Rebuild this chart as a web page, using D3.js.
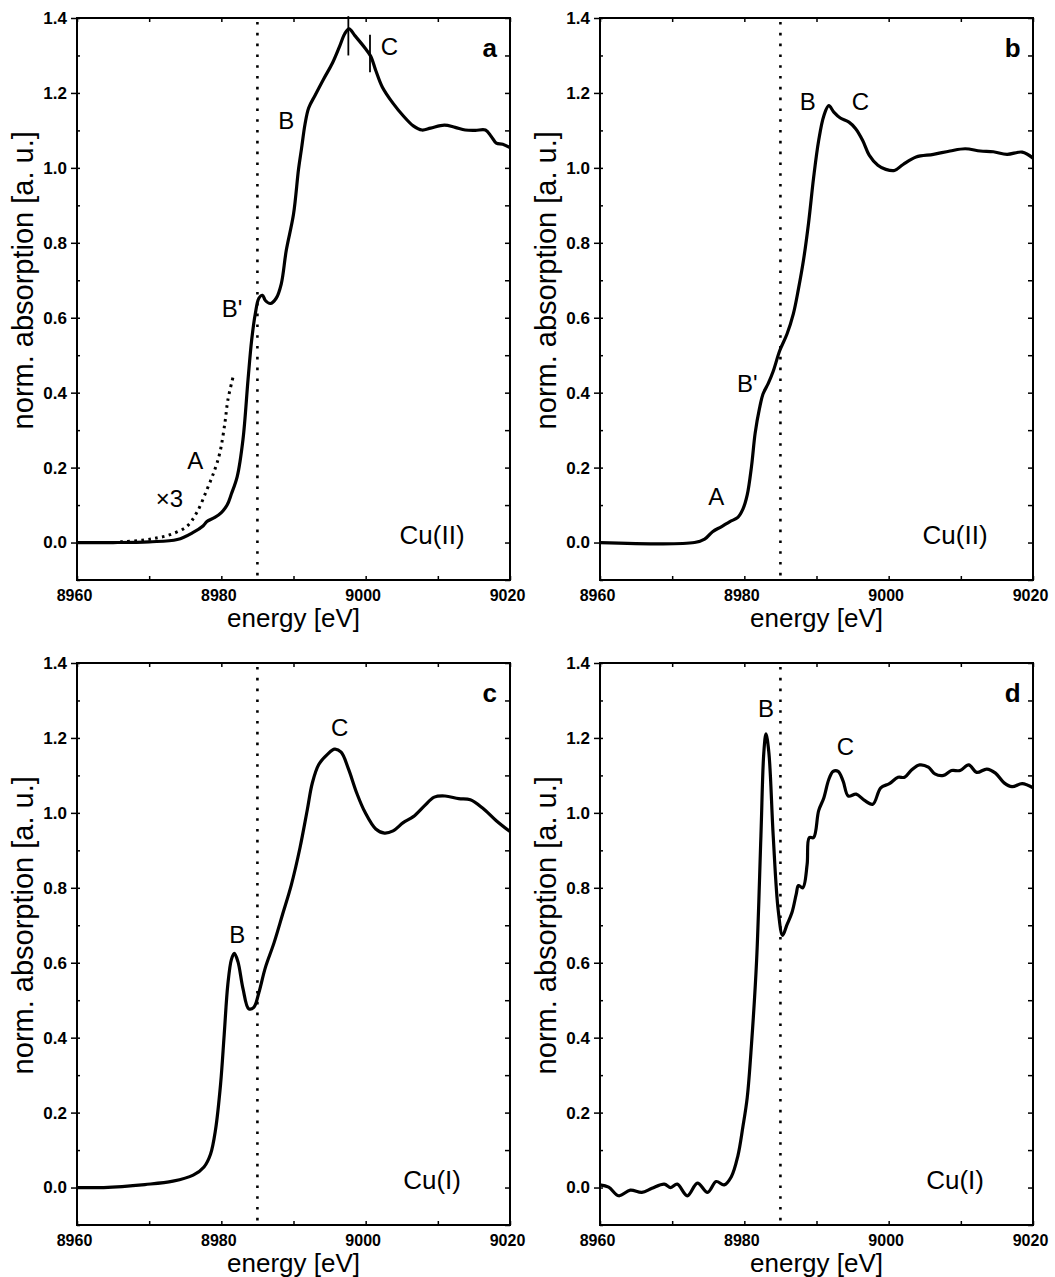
<!DOCTYPE html>
<html>
<head>
<meta charset="utf-8">
<script src="https://cdn.jsdelivr.net/npm/d3@7"></script>
<style>
  body { margin: 0; background: #fff; }
  text { font-family: 'Liberation Sans', Arial, Helvetica, sans-serif; fill: #000; }
</style>
</head>
<body>
<div class="canvas"></div>
<script>
const width = 1055;
const height = 1277;

// tick labels
const xLabels = [8960, 8980, 9000, 9020];
const yLabels = [0, 0.2, 0.4, 0.6, 0.8, 1.0, 1.2, 1.4];
const edgeLine = 8985;

// panel a: Cu(II)
const energyA = [8960, 8965, 8970, 8973.9, 8976.1, 8977.5, 8978.0, 8979.1, 8980.0, 8980.8, 8981.4, 8982.2, 8983.0, 8983.7, 8984.2, 8984.7, 8985.2, 8985.7, 8986.1, 8986.8, 8987.6, 8988.3, 8989.0, 8990.0, 8990.7, 8991.1, 8991.6, 8992.1, 8993.0, 8994.2, 8995.4, 8996.4, 8997.1, 8997.7, 8998.5, 8999.9, 9000.7, 9001.4, 9002.3, 9003.8, 9005.2, 9006.6, 9007.8, 9009.0, 9010.9, 9012.4, 9013.8, 9015.2, 9016.6, 9017.4, 9018.1, 9019.0, 9020];
const absA = [0, 0, 0.002, 0.008, 0.027, 0.045, 0.056, 0.067, 0.08, 0.1, 0.13, 0.176, 0.275, 0.435, 0.54, 0.61, 0.652, 0.66, 0.646, 0.638, 0.652, 0.69, 0.78, 0.876, 0.997, 1.05, 1.117, 1.16, 1.194, 1.238, 1.28, 1.325, 1.358, 1.371, 1.353, 1.32, 1.298, 1.26, 1.216, 1.172, 1.139, 1.112, 1.101, 1.106, 1.114, 1.108, 1.101, 1.1, 1.101, 1.084, 1.066, 1.063, 1.054];
// pre-edge region multiplied by 3
const energyA3 = [8966, 8969, 8971, 8972.9, 8975.2, 8976.6, 8978.0, 8979.1, 8979.8, 8980.5, 8980.9, 8981.6];
const absA3 = [0.002, 0.006, 0.012, 0.021, 0.043, 0.08, 0.141, 0.195, 0.24, 0.32, 0.38, 0.44];

// panel b: Cu(II)
const energyB = [8960, 8973.1, 8974.5, 8975.6, 8976.8, 8978.0, 8979.1, 8979.8, 8980.4, 8981.0, 8981.5, 8982.1, 8982.6, 8983.3, 8984.0, 8984.9, 8985.9, 8986.8, 8987.5, 8988.2, 8988.9, 8989.6, 8990.3, 8991.0, 8991.7, 8992.4, 8993.3, 8994.5, 8995.4, 8996.4, 8997.3, 8998.5, 8999.6, 9000.8, 9002.0, 9003.8, 9006.2, 9008.5, 9010.6, 9012.7, 9014.5, 9016.4, 9018.5, 9020];
const absB = [0, 0, 0.009, 0.029, 0.042, 0.056, 0.067, 0.089, 0.127, 0.204, 0.292, 0.358, 0.397, 0.424, 0.457, 0.512, 0.556, 0.611, 0.677, 0.754, 0.853, 0.974, 1.073, 1.138, 1.166, 1.149, 1.133, 1.122, 1.105, 1.073, 1.034, 1.007, 0.996, 0.993, 1.009, 1.029, 1.036, 1.045, 1.051, 1.045, 1.043, 1.036, 1.042, 1.026];

// panel c: Cu(I)
const energyC = [8960, 8963.7, 8969.4, 8973.3, 8976.1, 8977.6, 8978.5, 8979.2, 8979.9, 8980.4, 8980.9, 8981.4, 8981.8, 8982.3, 8983.0, 8983.8, 8984.5, 8985.2, 8986.1, 8987.3, 8988.5, 8989.7, 8990.9, 8991.9, 8992.6, 8993.5, 8994.7, 8995.7, 8996.6, 8997.6, 8998.8, 8999.9, 9001.4, 9002.6, 9003.8, 9005.2, 9006.6, 9008.1, 9009.5, 9011.0, 9012.9, 9014.5, 9016.2, 9018.1, 9020];
const absC = [0, 0, 0.008, 0.017, 0.033, 0.055, 0.089, 0.155, 0.277, 0.409, 0.542, 0.609, 0.625, 0.603, 0.531, 0.477, 0.481, 0.52, 0.587, 0.653, 0.73, 0.808, 0.907, 1.007, 1.079, 1.129, 1.156, 1.17, 1.162, 1.118, 1.051, 1.002, 0.957, 0.946, 0.952, 0.974, 0.99, 1.018, 1.042, 1.045, 1.038, 1.035, 1.013, 0.979, 0.95];

// panel d: Cu(I)
const energyD = [8960, 8961.2, 8962.6, 8964.2, 8965.8, 8967.2, 8968.9, 8969.8, 8970.7, 8972.1, 8973.5, 8974.9, 8976.1, 8977.2, 8978.2, 8979.1, 8979.8, 8980.4, 8981.0, 8981.7, 8982.3, 8982.7, 8983.0, 8983.4, 8984.0, 8984.7, 8985.3, 8985.9, 8986.6, 8987.2, 8987.5, 8988.1, 8988.7, 8989.0, 8989.6, 8990.3, 8991.0, 8991.7, 8992.3, 8993.0, 8993.7, 8994.4, 8995.5, 8996.6, 8997.8, 8998.9, 9000.1, 9001.3, 9002.2, 9003.2, 9004.3, 9005.5, 9006.4, 9007.6, 9008.7, 9009.9, 9011.1, 9012.2, 9013.6, 9014.8, 9016.0, 9017.1, 9018.5, 9020];
const absD = [0.007, 0.001, -0.022, -0.007, -0.013, -0.002, 0.009, 0, 0.009, -0.022, 0.012, -0.013, 0.016, 0.007, 0.029, 0.084, 0.162, 0.24, 0.384, 0.606, 0.939, 1.161, 1.211, 1.161, 0.939, 0.739, 0.673, 0.701, 0.734, 0.784, 0.806, 0.8, 0.862, 0.934, 0.934, 1.006, 1.039, 1.089, 1.111, 1.111, 1.084, 1.045, 1.05, 1.034, 1.023, 1.067, 1.078, 1.095, 1.095, 1.115, 1.128, 1.122, 1.104, 1.1, 1.113, 1.113, 1.128, 1.108, 1.117, 1.106, 1.08, 1.07, 1.078, 1.067];

// annotations: [text, energy, value]
const notesA = [['B', 8989.0, 1.128], ["B'", 8981.5, 0.624], ['A', 8976.4, 0.219], ['\u00d73', 8972.8, 0.118], ['C', 9003.3, 1.325]];
const notesB = [['B', 8988.8, 1.177], ['C', 8996.1, 1.177], ["B'", 8980.4, 0.424], ['A', 8976.1, 0.122]];
const notesC = [['B', 8982.2, 0.675], ['C', 8996.4, 1.228]];
const notesD = [['B', 8983.0, 1.278], ['C', 8994.0, 1.178]];
// peak markers in panel a: [energy, from, to]
const marksA = [[8997.6, 1.405, 1.3], [9000.6, 1.355, 1.255]];

const panels = [
  { tag: 'a', left: 77, top: 18, energy: energyA, abs: absA, notes: notesA, ion: 'Cu(II)' },
  { tag: 'b', left: 600, top: 18, energy: energyB, abs: absB, notes: notesB, ion: 'Cu(II)' },
  { tag: 'c', left: 77, top: 663, energy: energyC, abs: absC, notes: notesC, ion: 'Cu(I)' },
  { tag: 'd', left: 600, top: 663, energy: energyD, abs: absD, notes: notesD, ion: 'Cu(I)' }
];

const plotW = 433;
const plotH = 562;

const canvas = d3
  .select('.canvas')
  .append('svg')
  .attr('width', width)
  .attr('height', height)
  .style('background', '#fff');

const xScale = d3.scaleLinear().domain([8960, 9020]).range([0, plotW]);
const yScale = d3.scaleLinear().domain([-0.1, 1.4]).range([plotH, 0]);

const tenths = d3.range(-1, 15).map((d) => d / 10);
const tens = d3.range(8960, 9021, 10);

const line = d3
  .line()
  .x((d) => xScale(d[0]))
  .y((d) => yScale(d[1]))
  .curve(d3.curveCatmullRom.alpha(0.5));

function cleanAxis(g) {
  g.select('path.domain').remove();
  g.selectAll('line').attr('stroke', '#000').attr('stroke-width', 1.5);
}

panels.forEach((p) => {
  const g = canvas.append('g').attr('transform', `translate(${p.left},${p.top})`);

  // ticks
  g.append('g')
    .call(d3.axisLeft(yScale).tickValues(yLabels).tickSize(6).tickPadding(4).tickFormat(d3.format('.1f')))
    .call(cleanAxis)
    .selectAll('text')
    .attr('font-size', 17)
    .attr('font-weight', 'bold')
    .attr('font-family', null);

  g.append('g')
    .call(d3.axisLeft(yScale).tickValues(tenths).tickSize(-3).tickFormat(''))
    .call(cleanAxis);

  g.append('g')
    .attr('transform', `translate(${plotW},0)`)
    .call(d3.axisRight(yScale).tickValues(tenths).tickSize(-5).tickFormat(''))
    .call(cleanAxis);

  g.append('g')
    .call(d3.axisTop(xScale).tickValues(tens).tickSize(-4).tickFormat(''))
    .call(cleanAxis);

  g.append('g')
    .attr('transform', `translate(0,${plotH})`)
    .call(d3.axisBottom(xScale).tickValues(tens).tickSize(-4).tickFormat(''))
    .call(cleanAxis);

  g.append('g')
    .attr('transform', `translate(0,${plotH})`)
    .call(d3.axisBottom(xScale).tickValues(xLabels).tickSize(0).tickPadding(10).tickFormat(d3.format('d')))
    .call(cleanAxis)
    .selectAll('text')
    .attr('dx', -3)
    .attr('font-size', 16)
    .attr('font-weight', 'bold')
    .attr('font-family', null);

  // frame
  g.append('rect')
    .attr('width', plotW)
    .attr('height', plotH)
    .attr('fill', 'none')
    .attr('stroke', '#000')
    .attr('stroke-width', 2);

  // edge position
  g.append('line')
    .attr('x1', xScale(edgeLine))
    .attr('x2', xScale(edgeLine))
    .attr('y1', 4)
    .attr('y2', plotH)
    .attr('stroke', '#000')
    .attr('stroke-width', 2.6)
    .attr('stroke-dasharray', '2.6 8.2');

  if (p.tag === 'a') {
    g.append('path')
      .datum(d3.zip(energyA3, absA3))
      .attr('d', line)
      .attr('fill', 'none')
      .attr('stroke', '#000')
      .attr('stroke-width', 3)
      .attr('stroke-dasharray', '2.6 4.4');

    g.selectAll('line.mark')
      .data(marksA)
      .enter()
      .append('line')
      .attr('class', 'mark')
      .attr('x1', (d) => xScale(d[0]))
      .attr('x2', (d) => xScale(d[0]))
      .attr('y1', (d) => yScale(d[1]))
      .attr('y2', (d) => yScale(d[2]))
      .attr('stroke', '#000')
      .attr('stroke-width', 1.8);
  }

  g.append('path')
    .datum(d3.zip(p.energy, p.abs))
    .attr('d', line)
    .attr('fill', 'none')
    .attr('stroke', '#000')
    .attr('stroke-width', 3.2)
    .attr('stroke-linejoin', 'round');

  // labels
  g.selectAll('text.note')
    .data(p.notes)
    .enter()
    .append('text')
    .attr('class', 'note')
    .attr('x', (d) => xScale(d[1]))
    .attr('y', (d) => yScale(d[2]))
    .attr('dy', '0.36em')
    .attr('text-anchor', 'middle')
    .attr('font-size', 24)
    .text((d) => d[0]);

  g.append('text')
    .attr('x', xScale(9017.2))
    .attr('y', yScale(1.322))
    .attr('dy', '0.36em')
    .attr('text-anchor', 'middle')
    .attr('font-size', 26)
    .attr('font-weight', 'bold')
    .text(p.tag);

  g.append('text')
    .attr('x', xScale(9009.2))
    .attr('y', yScale(0.02))
    .attr('dy', '0.36em')
    .attr('text-anchor', 'middle')
    .attr('font-size', 26)
    .text(p.ion);

  g.append('text')
    .attr('x', plotW / 2)
    .attr('y', plotH + 47)
    .attr('text-anchor', 'middle')
    .attr('font-size', 26)
    .text('energy [eV]');

  g.append('text')
    .attr('transform', `translate(-44,${yScale(0.7)}) rotate(-90)`)
    .attr('text-anchor', 'middle')
    .attr('font-size', 29)
    .text('norm. absorption [a. u.]');
});
</script>
</body>
</html>
